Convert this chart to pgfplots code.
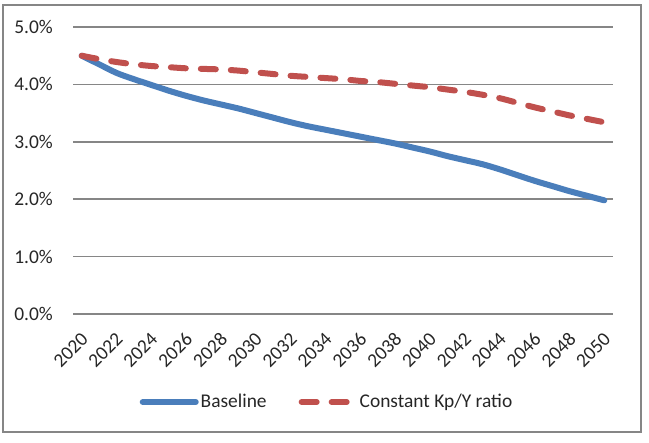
\documentclass[border=0pt]{standalone}
\usepackage{pgfplots}
\pgfplotsset{compat=1.18}
\usepackage{fontspec}
\setmainfont{Carlito}
\definecolor{exblue}{HTML}{4A7EBB}
\definecolor{exred}{HTML}{C0504D}
\definecolor{exgrid}{HTML}{868686}
\definecolor{extext}{HTML}{262626}

\begin{document}
\begin{tikzpicture}[x=1bp,y=1bp]
% frame and page size (1 bp = 1 px of the reference)
\path (-73,314) rectangle (576,-129);
\draw[exgrid, line width=2bp] (-70,309) rectangle (568,-118);
\begin{axis}[
    at={(0,0)}, anchor=south west,
    scale only axis,
    width=540bp, height=287bp,
    xmin=2019.5, xmax=2050.5,
    ymin=0, ymax=5,
    xtick={2020,2022,...,2050},
    ytick={0,1,2,3,4,5},
    axis line style={draw=none},
    major tick length=0pt,
    ymajorgrids=true,
    grid style={exgrid, line width=1.5bp},
    /pgf/number format/assume math mode=true,
    tick label style={font=\fontsize{19.5}{22}\selectfont, text=extext},
    xticklabel={\pgfmathprintnumber[1000 sep={}]{\tick}},
    yticklabel={\pgfmathprintnumber[fixed,fixed zerofill,precision=1]{\tick}\%},
    yticklabel style={anchor=east, inner sep=0pt, xshift=-20bp},
    xticklabel style={xshift=3bp, yshift=-22bp, rotate=45, anchor=east, inner sep=0pt},
    legend style={at={(0.4704,-0.3066)}, anchor=center, draw=none, fill=none,
        font=\fontsize{19.5}{22}\selectfont, text=extext,
        legend columns=2,
        /tikz/every even column/.append style={column sep=30bp},
        nodes={inner sep=2bp},
        inner sep=0pt},
    legend image code/.code={\draw[#1] (0bp,0bp) -- (53bp,0bp);},
    clip=false,
]
\addplot[exblue, line width=6bp, line cap=round, smooth] coordinates {
(2020,4.50)(2021,4.35)(2022,4.20)(2023,4.09)(2024,3.99)(2025,3.89)
(2026,3.80)(2027,3.72)(2028,3.65)(2029,3.58)(2030,3.50)(2031,3.42)
(2032,3.34)(2033,3.27)(2034,3.21)(2035,3.15)(2036,3.09)(2037,3.03)
(2038,2.97)(2039,2.90)(2040,2.83)(2041,2.75)(2042,2.68)(2043,2.61)
(2044,2.52)(2045,2.42)(2046,2.32)(2047,2.23)(2048,2.14)(2049,2.06)
(2050,1.98)
};
\addlegendentry{Baseline}
\addplot[exred, line width=6bp, line cap=round, dash pattern=on 15bp off 15bp, smooth] coordinates {
(2020,4.50)(2021,4.44)(2022,4.39)(2023,4.35)(2024,4.32)(2025,4.30)
(2026,4.28)(2027,4.27)(2028,4.26)(2029,4.24)(2030,4.21)(2031,4.18)
(2032,4.15)(2033,4.13)(2034,4.11)(2035,4.09)(2036,4.06)(2037,4.04)
(2038,4.01)(2039,3.98)(2040,3.95)(2041,3.91)(2042,3.87)(2043,3.82)
(2044,3.76)(2045,3.68)(2046,3.60)(2047,3.53)(2048,3.46)(2049,3.40)
(2050,3.34)
};
\addlegendentry{Constant Kp/Y ratio}
\end{axis}
\end{tikzpicture}
\end{document}
